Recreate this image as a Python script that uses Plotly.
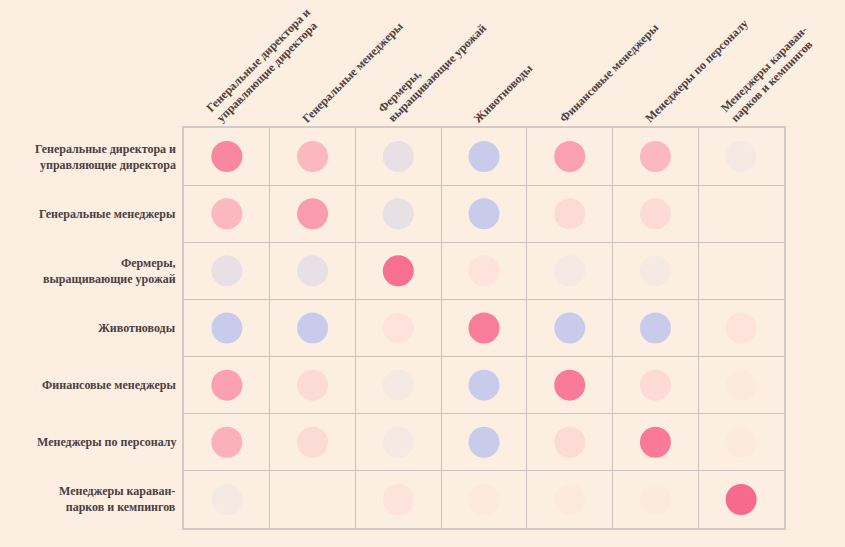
import plotly.graph_objects as go

labels = [
    "Генеральные директора и<br>управляющие директора",
    "Генеральные менеджеры",
    "Фермеры,<br>выращивающие урожай",
    "Животноводы",
    "Финансовые менеджеры",
    "Менеджеры по персоналу",
    "Менеджеры караван-<br>парков и кемпингов",
]

values = [
    [0.76, 0.40, -0.40, -1.00, 0.57, 0.40, -0.15],
    [0.40, 0.60, -0.40, -1.00, 0.15, 0.15, 0.00],
    [-0.40, -0.40, 0.93, 0.08, -0.15, -0.15, 0.00],
    [-1.00, -1.00, 0.08, 0.83, -1.00, -1.00, 0.08],
    [0.57, 0.15, -0.15, -1.00, 0.84, 0.15, 0.03],
    [0.45, 0.15, -0.15, -1.00, 0.15, 0.85, 0.03],
    [-0.15, 0.00, 0.08, 0.04, 0.03, 0.03, 0.97],
]

BG = "#fdeee2"
xs, ys, cs = [], [], []
for i, row in enumerate(values):
    for j, v in enumerate(row):
        xs.append(labels[j])
        ys.append(labels[i])
        cs.append(v)

fig = go.Figure(go.Scatter(
    x=xs, y=ys, mode="markers",
    marker=dict(
        size=31, color=cs, cmin=-1, cmax=1,
        colorscale=[[0, "#c8cbea"], [0.5, BG], [1, "#f7668a"]],
        line=dict(width=0), showscale=False,
    ),
    hovertemplate="%{y} / %{x}: %{marker.color:.2f}<extra></extra>",
))

font = dict(family="Liberation Serif, Times New Roman, serif", size=12,
            color="#4a4040", weight="bold")

annotations = []
for lab in labels:
    lines = lab.split("<br>")
    n = len(lines)
    # column labels (top, rotated)
    for k, line in enumerate(lines):
        m = n - 1 - k
        annotations.append(dict(
            x=lab, y=1, xref="x", yref="paper", text=line, showarrow=False,
            textangle=-45, xanchor="left", yanchor="bottom",
            xshift=-16 - 10 * m, yshift=0 + 10 * m, font=font,
        ))
    # row labels (left)
    annotations.append(dict(
        x=0, y=lab, xref="paper", yref="y", text=lab, showarrow=False,
        xanchor="right", yanchor="middle", align="right",
        xshift=-6, font=font,
    ))

fig.update_layout(
    width=845, height=547,
    margin=dict(l=184, r=61, t=128, b=19),
    paper_bgcolor=BG, plot_bgcolor=BG,
    showlegend=False,
    annotations=annotations,
    xaxis=dict(
        type="category", categoryorder="array", categoryarray=labels,
        range=[-0.5, 6.5], automargin=False, showticklabels=False,
        tickson="boundaries", showgrid=True, gridcolor="#cbc2bd", gridwidth=1,
        ticks="",
        showline=True, linecolor="#d4cac5", linewidth=2, mirror=True,
        zeroline=False, fixedrange=True,
    ),
    yaxis=dict(
        type="category", categoryorder="array", categoryarray=labels[::-1],
        range=[-0.5, 6.5], automargin=False, showticklabels=False,
        tickson="boundaries", showgrid=True, gridcolor="#cbc2bd", gridwidth=1,
        ticks="",
        showline=True, linecolor="#d4cac5", linewidth=2, mirror=True,
        zeroline=False, fixedrange=True,
    ),
)

fig.write_html(
    "out.html",
    config={"displayModeBar": False},
    post_script="document.body.style.margin='0';document.body.style.background='#fdeee2';",
)
